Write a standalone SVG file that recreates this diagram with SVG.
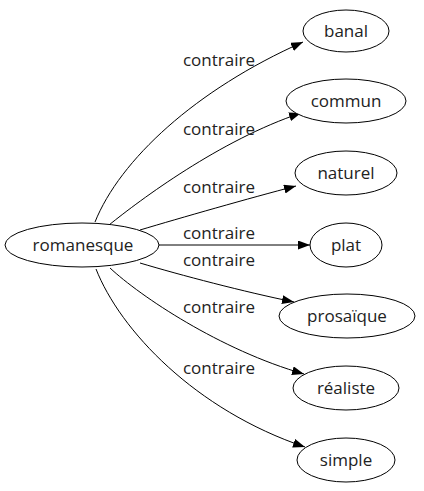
<svg xmlns="http://www.w3.org/2000/svg" width="424" height="491" viewBox="0 0 424 491">
<defs>
<style>
.node ellipse{fill:#fff;stroke:#000;stroke-width:1}
text{font-family:"Open Sans","Noto Sans","DejaVu Sans",sans-serif;font-size:17px;fill:#222;text-anchor:middle}
.edge{fill:none;stroke:#000;stroke-width:1;marker-end:url(#arr)}
</style>
<marker id="arr" markerUnits="userSpaceOnUse" markerWidth="13" markerHeight="10" refX="12" refY="4.5" orient="auto">
<path d="M0,0 L12,4.5 L0,9 z" fill="#000"/>
</marker>
</defs>
<rect width="424" height="491" fill="#fff"/>
<g id="edges">
<path class="edge" d="M95,222 C120,160 195,90 303,42"/>
<path class="edge" d="M109,225 C140,200 220,140 301,113"/>
<path class="edge" d="M140,230 C180,218 250,198 296,186"/>
<path class="edge" d="M159,245 L310,245"/>
<path class="edge" d="M140,263 C180,275 245,292 294,302"/>
<path class="edge" d="M110,268 C140,296 220,350 304,374"/>
<path class="edge" d="M96,269 C120,330 195,410 305,447"/>
<text x="219" y="66">contraire</text>
<text x="219" y="135">contraire</text>
<text x="219" y="193">contraire</text>
<text x="219" y="239">contraire</text>
<text x="219" y="266">contraire</text>
<text x="219" y="313">contraire</text>
<text x="219" y="374">contraire</text>
</g>
<g id="romanesque" class="node"><ellipse cx="82" cy="245" rx="77" ry="22"/><text x="83" y="251">romanesque</text></g>
<g id="banal" class="node"><ellipse cx="346" cy="31" rx="43" ry="21"/><text x="346" y="37">banal</text></g>
<g id="commun" class="node"><ellipse cx="346" cy="101" rx="60" ry="22"/><text x="346" y="107">commun</text></g>
<g id="naturel" class="node"><ellipse cx="346" cy="173" rx="51" ry="22"/><text x="346" y="179">naturel</text></g>
<g id="plat" class="node"><ellipse cx="346" cy="245" rx="36" ry="22"/><text x="346" y="251">plat</text></g>
<g id="prosaique" class="node"><ellipse cx="347" cy="316" rx="68" ry="22"/><text x="347" y="322">prosaïque</text></g>
<g id="realiste" class="node"><ellipse cx="346" cy="388" rx="53" ry="22"/><text x="346" y="394">réaliste</text></g>
<g id="simple" class="node"><ellipse cx="346" cy="460" rx="49" ry="22"/><text x="346" y="466">simple</text></g>
</svg>
